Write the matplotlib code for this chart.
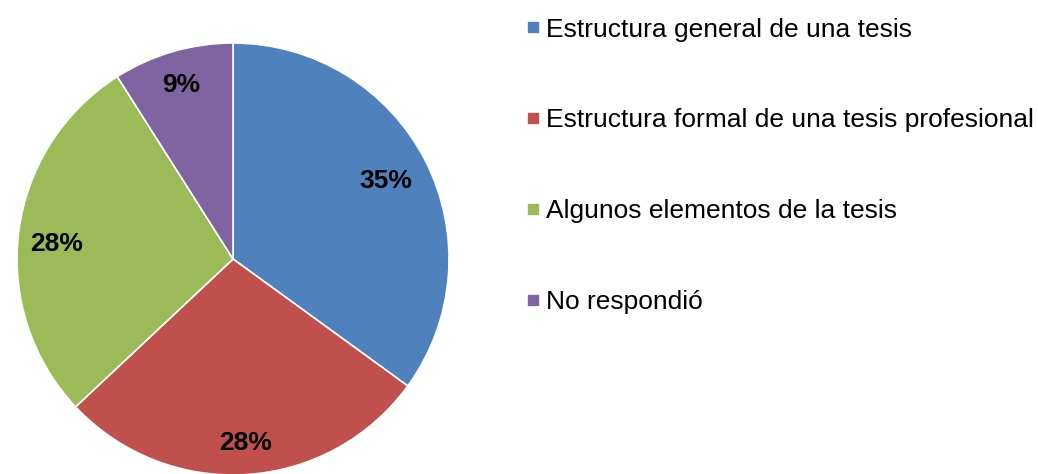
import matplotlib.pyplot as plt
from matplotlib.lines import Line2D

plt.rcParams['font.family'] = ['Liberation Sans', 'DejaVu Sans']

categories = ["Estructura general de una tesis",
              "Estructura formal de una tesis profesional",
              "Algunos elementos de la tesis",
              "No respondió"]
values = [35, 28, 28, 9]
pct_labels = ["35%", "28%", "28%", "9%"]
colors = ["#4F81BD", "#C0504D", "#9BBB59", "#8064A2"]
# where Excel put the data labels (axes data units, pie radius = 1)
label_xy = [(0.708, 0.361), (0.060, -0.852), (-0.815, 0.069), (-0.241, 0.806)]

fig = plt.figure(figsize=(10.38, 4.74), dpi=100)
ax = fig.add_axes([0.0164, -0.0021, 0.4162, 0.9114])
ax.pie(values, colors=colors, startangle=90, counterclock=False,
       wedgeprops=dict(edgecolor="white", linewidth=1.2))
ax.set_xlim(-1, 1)
ax.set_ylim(-1, 1)
ax.set_aspect("equal")
ax.axis("off")

for (x, y), txt in zip(label_xy, pct_labels):
    ax.text(x, y, txt, ha="center", va="center", fontsize=19,
            fontweight="bold", color="black")

handles = [Line2D([], [], linestyle="none", marker="s", markersize=7,
                  markerfacecolor=c, markeredgecolor=c) for c in colors]
fig.legend(handles, categories, loc="upper left", bbox_to_anchor=(0.497, 0.985),
           frameon=False, fontsize=19, labelspacing=2.53, handlelength=0.5,
           handletextpad=0.25, borderaxespad=0)

fig.savefig("out.png", dpi=100)
